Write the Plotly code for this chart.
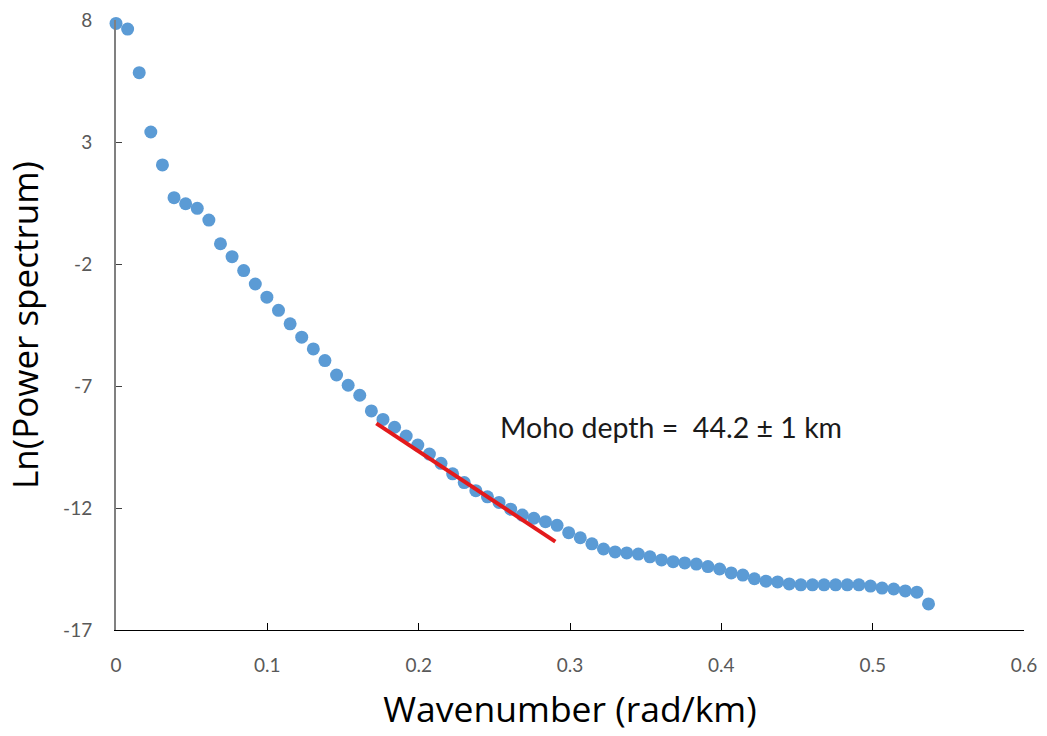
import plotly.graph_objects as go

dk = 0.00767
wavenumber = [round(i * dk, 5) for i in range(71)]
ln_power = [
    7.86, 7.63, 5.84, 3.41, 2.06, 0.72, 0.47, 0.28, -0.20, -1.17,
    -1.70, -2.27, -2.82, -3.36, -3.90, -4.45, -5.00, -5.48, -5.96, -6.55,
    -6.97, -7.38, -8.02, -8.37, -8.69, -9.05, -9.42, -9.79, -10.17, -10.60,
    -10.96, -11.29, -11.54, -11.77, -12.05, -12.29, -12.42, -12.56, -12.71, -13.01,
    -13.22, -13.47, -13.68, -13.80, -13.84, -13.89, -14.00, -14.13, -14.20, -14.25,
    -14.30, -14.40, -14.50, -14.66, -14.75, -14.90, -15.00, -15.03, -15.11, -15.15,
    -15.15, -15.15, -15.15, -15.15, -15.15, -15.20, -15.28, -15.32, -15.40, -15.45,
    -15.93,
]
fit_x = [0.172, 0.2903]
fit_y = [-8.53, -13.38]
x_ticks = [0, 0.1, 0.2, 0.3, 0.4, 0.5, 0.6]
x_ticklabels = ["0", "0.1", "0.2", "0.3", "0.4", "0.5", "0.6"]
y_ticks = [8, 3, -2, -7, -12, -17]
y_ticklabels = ["8", "3", "-2", "-7", "-12", "-17"]
annotation_text = "Moho depth =  44.2 ± 1 km"

FONT = "Lato"
TITLE_FONT = "Open Sans"

fig = go.Figure()
fig.add_trace(go.Scatter(
    x=wavenumber, y=ln_power, mode="markers",
    marker=dict(color="#5B9BD5", size=13, line=dict(width=0)),
    showlegend=False, cliponaxis=False,
))
fig.add_trace(go.Scatter(
    x=fit_x, y=fit_y, mode="lines",
    line=dict(color="#E31A1C", width=4),
    showlegend=False,
))
fig.add_annotation(
    x=0.367, y=-8.7, xref="x", yref="y", text=annotation_text,
    showarrow=False, font=dict(family=FONT, size=28.5, color="#1a1a1a"),
)

fig.update_layout(
    width=1047, height=736,
    margin=dict(l=116, r=23, t=20, b=106, pad=0),
    paper_bgcolor="white", plot_bgcolor="white",
    font=dict(family=FONT),
)
fig.update_xaxes(
    range=[0, 0.6], tickvals=x_ticks, ticktext=x_ticklabels,
    showgrid=False, zeroline=False, showline=True, linecolor="#000000", linewidth=1,
    ticks="inside", ticklen=7, tickcolor="#000000",
    tickfont=dict(family=FONT, size=19, color="#595959"),
    ticklabelstandoff=18, automargin=False,
    title=dict(text="Wavenumber (rad/km)", font=dict(family=TITLE_FONT, size=35.5, color="#000000"), standoff=22),
)
fig.update_yaxes(
    range=[-17, 8], tickvals=y_ticks, ticktext=y_ticklabels,
    showgrid=False, zeroline=False, showline=True, linecolor="#808080", linewidth=2,
    ticks="inside", ticklen=6, tickcolor="#404040",
    tickfont=dict(family=FONT, size=19, color="#595959"),
    ticklabelstandoff=18, automargin=False,
    title=dict(text="Ln(Power spectrum)", font=dict(family=TITLE_FONT, size=35, color="#000000"), standoff=14),
)

fig.write_html("out.html", config={"displayModeBar": False},
               post_script="document.body.style.margin='0';")
